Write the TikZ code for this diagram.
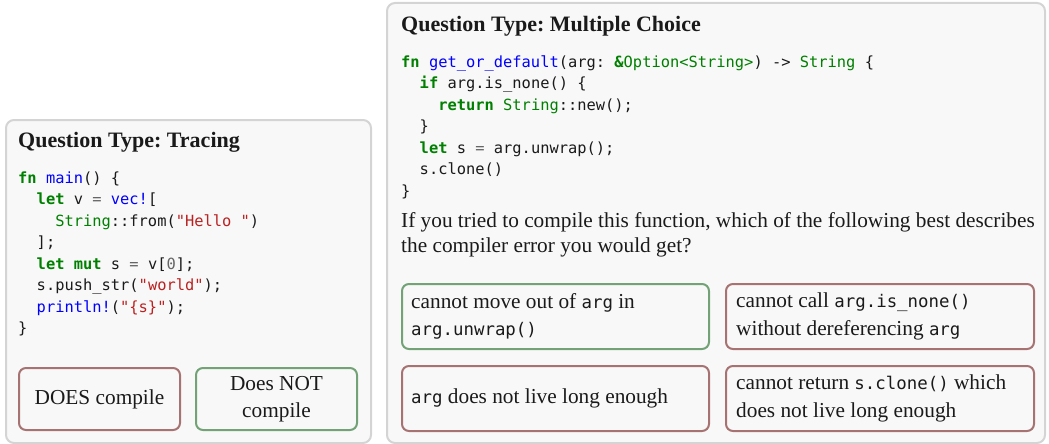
\documentclass[tikz,border=0pt]{standalone}
\usepackage{fontspec}
\setmainfont{Liberation Serif}
\setmonofont{DejaVu Sans Mono}
\frenchspacing
\definecolor{kwgreen}{HTML}{008000}
\definecolor{fnblue}{HTML}{0000FF}
\definecolor{strred}{HTML}{BA2121}
\definecolor{numgray}{HTML}{666666}
\definecolor{panelfill}{HTML}{F8F8F8}
\definecolor{paneldraw}{HTML}{D4D4D4}
\definecolor{wrongc}{HTML}{A67272}
\definecolor{rightc}{HTML}{72A276}
\definecolor{ink}{HTML}{1A1A1A}
\newcommand\kw[1]{\textcolor{kwgreen}{\bfseries #1}}
\newcommand\fnm[1]{\textcolor{fnblue}{#1}}
\newcommand\cstr[1]{\textcolor{strred}{#1}}
\newcommand\ty[1]{\textcolor{kwgreen}{#1}}
\newcommand\op[1]{\textcolor{numgray}{#1}}
\newcommand\ind[1]{\hphantom{#1}}
\newcommand\mono[1]{{\fontsize{17.4}{20}\selectfont\ttfamily #1}}
\tikzset{
  panel/.style={draw=paneldraw, line width=2pt, fill=panelfill, rounded corners=8pt},
  wrong/.style={draw=wrongc, line width=2pt, rounded corners=7pt},
  right/.style={draw=rightc, line width=2pt, rounded corners=7pt},
  title/.style={anchor=base west, inner sep=0pt, font=\fontsize{22}{25}\selectfont\bfseries, text=ink},
  code/.style={anchor=base west, inner sep=0pt, font=\fontsize{15.4}{21.5}\selectfont\ttfamily, text=ink},
  body/.style={anchor=base west, inner sep=0pt, font=\fontsize{21.3}{25}\selectfont, text=ink},
  opt/.style={inner sep=0pt, font=\fontsize{21.3}{27.5}\selectfont, text=ink},
}
\begin{document}
\begin{tikzpicture}[x=1pt, y=-1pt]
\useasboundingbox (0,0) rectangle (1049,444);
% left panel
\draw[panel] (6,120) rectangle (371,443);
\node[title] (lt) at (18,147) {Question Type: Tracing};
\node[code] (l1) at (18,183) {\kw{fn} \fnm{main}() \{};
\node[code] (l2) at (18,204.5) {\ind{xx}\kw{let} v \op{=} \fnm{vec!}[};
\node[code] (l3) at (18,226) {\ind{xxxx}\ty{String}::from(\cstr{"Hello "})};
\node[code] (l4) at (18,247.5) {\ind{xx}];};
\node[code] (l5) at (18,269) {\ind{xx}\kw{let} \kw{mut} s \op{=} v[\op{0}];};
\node[code] (l6) at (18,290.5) {\ind{xx}s.push\_str(\cstr{"world"});};
\node[code] (l7) at (18,312) {\ind{xx}\fnm{println!}(\cstr{"\{s\}"});};
\node[code] (l8) at (18,333.5) {\}};
\draw[wrong] (19,368) rectangle (180,430);
\node[opt] (a1) at (99.5,399) {DOES compile};
\draw[right] (196,368) rectangle (357,430);
\node[opt, align=center] (a2) at (276.5,399) {Does NOT\\compile};
% right panel
\draw[panel] (387,3) rectangle (1045,443);
\node[title] (rt) at (401,32) {Question Type: Multiple Choice};
\node[code] (r1) at (401,67) {\kw{fn} \fnm{get\_or\_default}(arg: \kw{\&}\ty{Option<String>}) -> \ty{String} \{};
\node[code] (r2) at (401,88.5) {\ind{xx}\kw{if} arg.is\_none() \{};
\node[code] (r3) at (401,110) {\ind{xxxx}\kw{return} \ty{String}::new();};
\node[code] (r4) at (401,131.5) {\ind{xx}\}};
\node[code] (r5) at (401,153) {\ind{xx}\kw{let} s \op{=} arg.unwrap();};
\node[code] (r6) at (401,174.5) {\ind{xx}s.clone()};
\node[code] (r7) at (401,196) {\}};
\node[body] (q1) at (401,227) {If you tried to compile this function, which of the following best describes};
\node[body] (q2) at (401,252) {the compiler error you would get?};
\draw[right] (402,284) rectangle (709,349);
\node[opt, align=left, anchor=west] (b1) at (411,316.5) {cannot move out of \mono{arg} in\\\mono{arg.unwrap()}};
\draw[wrong] (726,284) rectangle (1034,349);
\node[opt, align=left, anchor=west] (b2) at (736,316.5) {cannot call \mono{arg.is\_none()}\\without dereferencing \mono{arg}};
\draw[wrong] (402,366) rectangle (709,431);
\node[opt, align=left, anchor=west] (b3) at (411,398.5) {\mono{arg} does not live long enough};
\draw[wrong] (726,366) rectangle (1034,431);
\node[opt, align=left, anchor=west] (b4) at (736,398.5) {cannot return \mono{s.clone()} which\\does not live long enough};
\end{tikzpicture}
\end{document}
